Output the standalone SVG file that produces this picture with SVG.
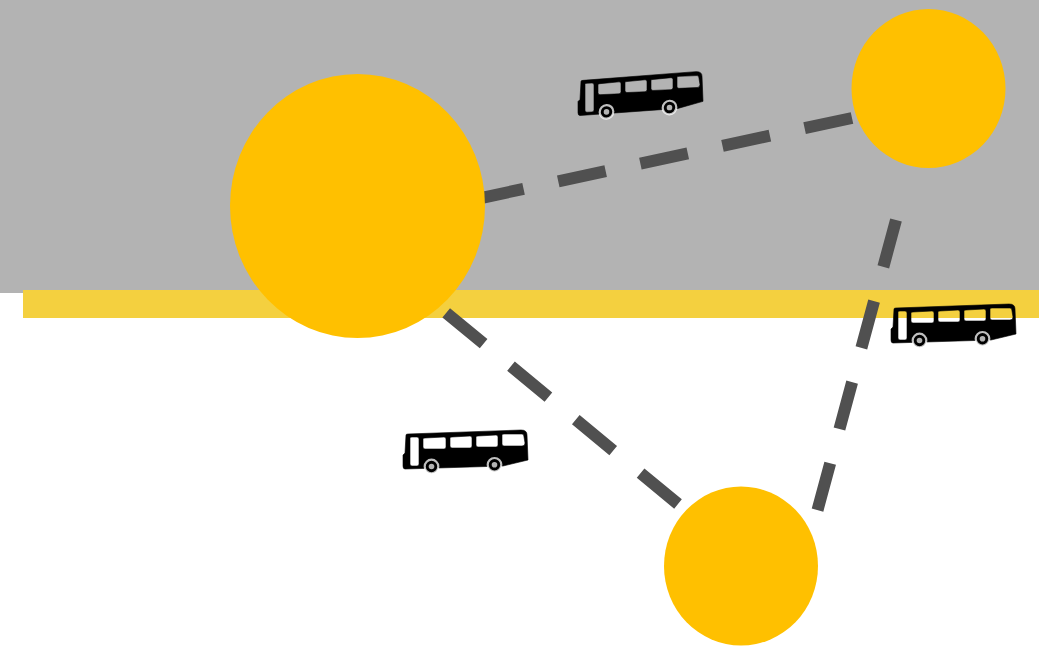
<svg xmlns="http://www.w3.org/2000/svg" width="1039" height="646" viewBox="0 0 1039 646">
<style>
.stop{fill:#ffc000}
.dash{fill:none;stroke:#505050;stroke-width:12;stroke-dasharray:48.5 35.5}
.body{fill:#000;fill-rule:evenodd;stroke:#000;stroke-width:.6;stroke-linejoin:round}
.rim{fill:#000;stroke:#fff;stroke-width:2.2;stroke-opacity:.75}
.hub{fill:#fff;fill-opacity:.7}
</style>
<defs>
<g id="bus">
<path class="body" d="M1,1 Q1,0 3,0 L116,-4 Q122,-4 122,1 L123,26 L98,32 L0,35 Q-2,35 -2,32 L-2,21 L0,19 Z M5,4 L5,30 Q5,32 7,32 L12,32 Q14,32 14,30 L14,5 Q14,3 12,3 L7,3 Q5,3 5,4 Z M18,5 L18,13 Q18,15 20,15 L39,15 Q41,15 41,13 L41,5 Q41,3 39,3 L20,4 Q18,4 18,5 Z M45,4 L45,12 Q45,14 47,14 L65,14 Q67,14 67,12 L67,4 Q67,2 65,2 L47,3 Q45,3 45,4 Z M71,3 L71,11 Q71,13 73,13 L91,13 Q93,13 93,11 L93,3 Q93,1 91,1 L73,2 Q71,2 71,3 Z M97,1 L97,10 Q97,12 99,12 L117,12 Q120,12 120,9 L119,3 Q119,0 117,0 L99,0 Q97,0 97,1 Z"/>
<circle class="rim" cx="26.5" cy="32.5" r="6.8"/><circle class="hub" cx="26.5" cy="32.5" r="2.8"/>
<circle class="rim" cx="89.5" cy="30.8" r="6.8"/><circle class="hub" cx="89.5" cy="30.8" r="2.8"/>
</g>
</defs>
<g id="background">
<rect x="0" y="0" width="1039" height="293" fill="#b3b3b3"/>
<rect x="23" y="290" width="1016" height="28" fill="#f4d03f"/>
</g>
<g id="connectors">
<line class="dash" x1="852" y1="118" x2="356" y2="225"/>
<line class="dash" x1="896" y1="220" x2="817" y2="512"/>
<line class="dash" x1="678" y1="504" x2="398" y2="273"/>
</g>
<g id="stop-a"><ellipse class="stop" cx="357.5" cy="206" rx="127.5" ry="132"/></g>
<g id="stop-b"><ellipse class="stop" cx="928.5" cy="88.5" rx="77" ry="79.5"/></g>
<g id="stop-c"><ellipse class="stop" cx="741" cy="566" rx="77" ry="79.5"/></g>
<g id="bus-1"><use href="#bus" transform="translate(580,80.5) skewY(-2.4)"/></g>
<g id="bus-2"><use href="#bus" transform="translate(405,434)"/></g>
<g id="bus-3"><use href="#bus" transform="translate(893,308)"/></g>
</svg>
